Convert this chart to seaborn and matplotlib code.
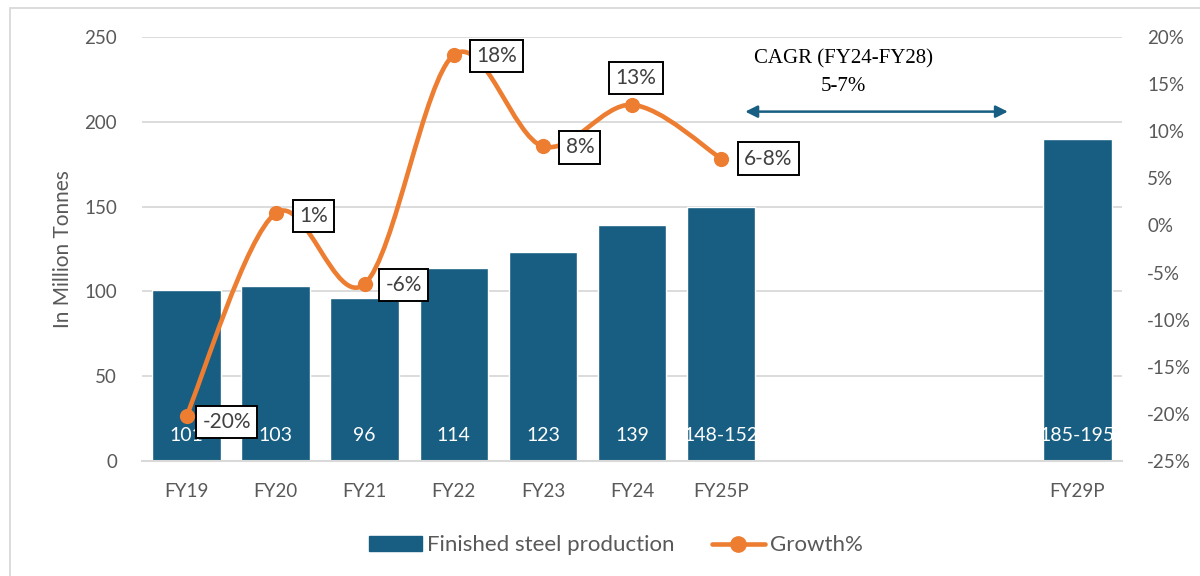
import numpy as np
import pandas as pd
import matplotlib
matplotlib.use("Agg")
import matplotlib.pyplot as plt
import seaborn as sns
from matplotlib.path import Path
from matplotlib.patches import PathPatch, Rectangle, Patch
from matplotlib.lines import Line2D
from matplotlib.ticker import FuncFormatter, MultipleLocator

# ---------------- data ----------------
categories = ["FY19", "FY20", "FY21", "FY22", "FY23", "FY24", "FY25P", "FY26", "FY27", "FY28", "FY29P"]
tick_labels = ["FY19", "FY20", "FY21", "FY22", "FY23", "FY24", "FY25P", "", "", "", "FY29P"]
production = [101, 103, 96, 114, 123, 139, 150, np.nan, np.nan, np.nan, 190]
production_labels = ["101", "103", "96", "114", "123", "139", "148-152", "", "", "", "185-195"]
growth_categories = ["FY19", "FY20", "FY21", "FY22", "FY23", "FY24", "FY25P"]
growth = [-20.2, 1.3, -6.2, 18.1, 8.4, 12.8, 7.1]
growth_labels = ["-20%", "1%", "-6%", "18%", "8%", "13%", "6-8%"]
cagr_text = "CAGR (FY24-FY28)\n5-7%"

# ---------------- style ----------------
BAR = "#175E82"
ORANGE = "#ED7D31"
GRID = "#D9D9D9"
TXT = "#595959"
sns.set_theme(style="white")
plt.rcParams["font.family"] = ["Lato", "DejaVu Sans"]

fig = plt.figure(figsize=(12, 5.76), dpi=100)
ax = fig.add_axes([142 / 1200, 1 - 461 / 576, (1122 - 142) / 1200, (461 - 37) / 576])

df = pd.DataFrame({"cat": categories, "prod": production})
sns.barplot(data=df, x="cat", y="prod", order=categories, color=BAR, width=0.77,
            saturation=1, ax=ax, zorder=2)
ax.set_xlim(-0.5, len(categories) - 0.5)
ax.set_ylim(0, 250)
ax.yaxis.set_major_locator(MultipleLocator(50))
ax.grid(axis="y", color=GRID, lw=1.3, zorder=0)
ax.set_axisbelow(True)
ax.set_xticks(range(len(categories)))
ax.set_xticklabels(tick_labels, fontsize=13.5, color=TXT)
ax.tick_params(axis="y", labelsize=13.5, labelcolor=TXT, length=0, pad=18)
ax.tick_params(axis="x", length=0, pad=16)
ax.set_xlabel("")
ax.set_ylabel("In Million Tonnes", fontsize=15, color=TXT, labelpad=8)
for s in ["top", "right", "left"]:
    ax.spines[s].set_visible(False)
ax.spines["bottom"].set_color(GRID)
ax.spines["bottom"].set_linewidth(1.5)

for i, lab in enumerate(production_labels):
    if lab:
        ax.text(i, 15, lab, ha="center", va="center", color="white", fontsize=14, zorder=3)

# ---------------- growth line (right axis) ----------------
ax2 = ax.twinx()
ax2.set_ylim(-25, 20)
ax2.yaxis.set_major_locator(MultipleLocator(5))
ax2.yaxis.set_major_formatter(FuncFormatter(lambda v, p: f"{v:.0f}%"))
ax2.tick_params(axis="y", labelsize=13.5, labelcolor=TXT, length=0, pad=18)
ax2.grid(False)
for s in ax2.spines.values():
    s.set_visible(False)

gx = [categories.index(c) for c in growth_categories]
pts = np.column_stack([gx, growth]).astype(float)
ext = np.vstack([pts[0], pts, pts[-1]])
verts = [tuple(pts[0])]
codes = [Path.MOVETO]
for i in range(len(pts) - 1):
    p0, p1, p2, p3 = ext[i], ext[i + 1], ext[i + 2], ext[i + 3]
    c1 = p1 + (p2 - p0) / 6.0
    c2 = p2 - (p3 - p1) / 6.0
    verts += [tuple(c1), tuple(c2), tuple(p2)]
    codes += [Path.CURVE4] * 3
ax2.add_patch(PathPatch(Path(verts, codes), fill=False, ec=ORANGE, lw=3.3,
                        capstyle="round", zorder=4))
sns.scatterplot(x=gx, y=growth, ax=ax2, color=ORANGE, s=120, edgecolor=ORANGE,
                linewidth=0, zorder=5, legend=False)

label_offsets = [(40, -6), (38, -3), (39, -1), (43, -1), (37, -1), (4, 27), (47, 0)]
for (x, y), lab, (dx, dy) in zip(zip(gx, growth), growth_labels, label_offsets):
    ax2.annotate(lab, (x, y), xytext=(dx, dy), textcoords="offset pixels",
                 ha="center", va="center", fontsize=15, color="#404040", zorder=6,
                 bbox=dict(boxstyle="square,pad=0.3", fc="white", ec="black", lw=1.4))

# CAGR arrow & text (left-axis coordinates)
ax.annotate("", xy=(6.24, 206), xytext=(9.25, 206),
            arrowprops=dict(arrowstyle="<|-|>", color=BAR, lw=1.8, mutation_scale=18))
ax.text(7.37, 229, cagr_text, ha="center", va="center", fontsize=15,
        family=["Liberation Serif"], color="black", linespacing=1.55)

# ---------------- legend ----------------
handles = [Patch(facecolor=BAR, edgecolor=BAR),
           Line2D([0], [0], color=ORANGE, lw=3.3, marker="o", markersize=11)]
fig.legend(handles, ["Finished steel production", "Growth%"], loc="center",
           bbox_to_anchor=(0.513, 0.053), ncol=2, frameon=False, fontsize=16,
           labelcolor=TXT, handlelength=2.4, handletextpad=0.2, columnspacing=1.7)

# chart border
fig.patches.append(Rectangle((10 / 1200, -0.1), 1.2, 1.1 - 8 / 576,
                             transform=fig.transFigure, fill=False, ec=GRID, lw=1.3))

fig.savefig("out.png", dpi=100)
